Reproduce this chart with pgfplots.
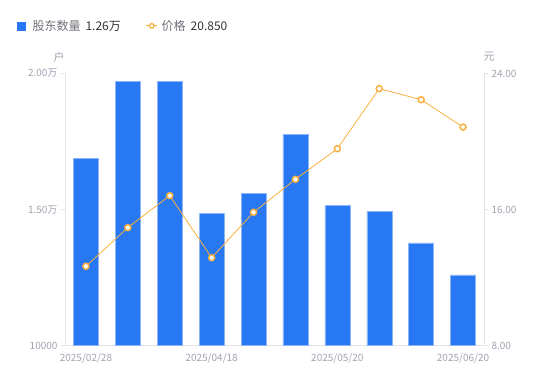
\documentclass[border=0pt]{standalone}
\usepackage{pgfplots}
\pgfplotsset{compat=1.18}
\usepackage{fontspec}
\setmainfont{Noto Sans CJK SC}
\definecolor{barblue}{HTML}{2878F4}
\definecolor{baredge}{HTML}{8DB6F8}
\definecolor{lineor}{HTML}{F9B03E}
\definecolor{tickgray}{HTML}{A0A2B0}
\definecolor{axisgray}{HTML}{E3E3E8}
\definecolor{leggray}{HTML}{6E7079}
\definecolor{legdark}{HTML}{333333}
\begin{document}
\begin{tikzpicture}
\useasboundingbox (0pt,0pt) rectangle (550pt,381pt);
\begin{axis}[
  at={(65pt,35.3pt)}, anchor=south west, scale only axis,
  width=419pt, height=272.2pt,
  xmin=-0.5, xmax=9.5, ymin=10000, ymax=20000,
  scaled y ticks=false,
  axis x line*=bottom, axis y line*=left,
  axis line style={axisgray, line width=0.8pt},
  xtick={0,3,6,9}, xticklabels={2025/02/28,2025/04/18,2025/05/20,2025/06/20},
  x tick style={draw=none},
  ytick={10000,15000,20000}, yticklabels={10000,1.50万,2.00万},
  y tick style={axisgray, line width=0.8pt},
  tick align=outside, major tick length=4pt,
  tick label style={font=\fontsize{10}{12}\selectfont, text=tickgray},
  /pgf/number format/assume math mode=true,
  ylabel={户},
  ylabel style={rotate=-90, at={(axis description cs:-0.014,1.06)}, anchor=center, font=\fontsize{11}{13}\selectfont, text=tickgray},
]
\addplot[ybar, bar width=25pt, fill=barblue, draw=baredge, line width=0.5pt] coordinates {
 (0,16870) (1,19713) (2,19713) (3,14864) (4,15599)
 (5,17766) (6,15158) (7,14923) (8,13773) (9,12600)
};
\end{axis}
\begin{axis}[
  at={(65pt,35.3pt)}, anchor=south west, scale only axis,
  width=419pt, height=272.2pt,
  xmin=-0.5, xmax=9.5, ymin=8, ymax=24,
  axis x line=none, axis y line*=right,
  axis line style={axisgray, line width=0.8pt},
  ytick={8,16,24}, yticklabels={8.00,16.00,24.00},
  y tick style={axisgray, line width=0.8pt},
  tick align=outside, major tick length=4pt,
  tick label style={font=\fontsize{10}{12}\selectfont, text=tickgray},
  /pgf/number format/assume math mode=true,
  ylabel={元},
  ylabel style={rotate=-90, at={(axis description cs:1.012,1.06)}, anchor=center, font=\fontsize{11}{13}\selectfont, text=tickgray},
  legend style={at={(axis description cs:-0.1146,1.175)}, anchor=west, draw=none, fill=none,
    legend columns=-1, inner sep=0pt, font=\fontsize{12}{14}\selectfont,
    /tikz/every even column/.append style={column sep=23pt}},
]
\addlegendimage{legend image code/.code={\fill[barblue] (0pt,-4pt) rectangle (8pt,4pt);}}
\addlegendentry{\hspace{5pt}{\color{leggray}股东数量}\hspace{5pt}{\color{legdark}1.26万}}
\addplot[lineor, line width=0.8pt, mark=*, mark size=3pt,
  mark options={fill=white, draw=lineor, line width=1.5pt},
  legend image code/.code={\draw[lineor,line width=0.8pt] (0pt,0pt)--(11pt,0pt); \draw[lineor,fill=white,line width=1.3pt] (5.5pt,0pt) circle (2.3pt);}]
 coordinates {
 (0,12.67) (1,14.94) (2,16.82) (3,13.17) (4,15.84)
 (5,17.78) (6,19.58) (7,23.11) (8,22.46) (9,20.85)
};
\addlegendentry{\hspace{2pt}{\color{leggray}价格}\hspace{5pt}{\color{legdark}20.850}}
\end{axis}
\end{tikzpicture}
\end{document}
